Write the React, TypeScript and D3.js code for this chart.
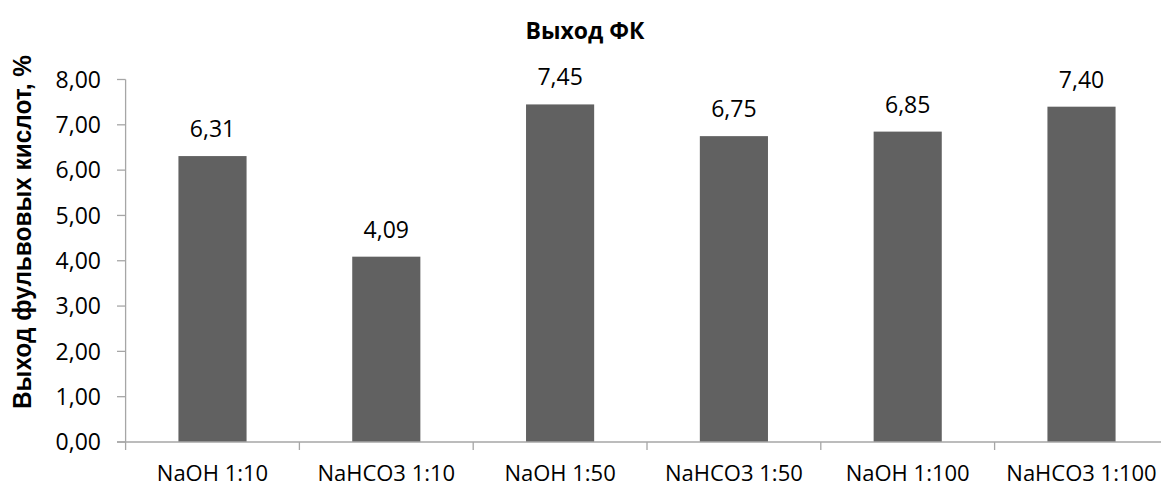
import React from "react";
import * as d3 from "d3";

const categories = ["NaOH 1:10", "NaHCO3 1:10", "NaOH 1:50", "NaHCO3 1:50", "NaOH 1:100", "NaHCO3 1:100"];
const values = [6.31, 4.09, 7.45, 6.75, 6.85, 7.4];
const yTicks = [0, 1, 2, 3, 4, 5, 6, 7, 8];
const title = "Выход ФК";
const yTitle = "Выход фульвовых кислот, %";

const W = 1161;
const H = 486;
const fmt = (v: number) => v.toFixed(2).replace(".", ",");

export default function App() {
  const x = d3.scaleBand<string>().domain(categories).range([125.6, 1168.4]).paddingInner(0).paddingOuter(0);
  const y = d3.scaleLinear().domain([0, 8]).range([442, 79.5]);
  const step = x.bandwidth();
  const barW = step * 0.392;
  const axisColor = "#a6a6a6";
  const textColor = "#000";
  const font = "'Open Sans', sans-serif";

  return (
    <svg width={W} height={H} style={{ position: "absolute", left: 0, top: 0, background: "#fff" }}>
      <text x={585} y={39} textAnchor="middle" fontFamily={font} fontWeight="bold" fontSize={23} fill={textColor}>
        {title}
      </text>
      <text
        transform={`translate(31, 232) rotate(-90)`}
        textAnchor="middle"
        fontFamily="'Liberation Sans', Arial, sans-serif"
        fontWeight="bold"
        fontSize={25}
        textLength={354}
        lengthAdjust="spacingAndGlyphs"
        fill={textColor}
      >
        {yTitle}
      </text>
      {yTicks.map((t) => (
        <g key={t}>
          <line x1={117} x2={125.6} y1={y(t)} y2={y(t)} stroke={axisColor} strokeWidth={1.3} />
          <text x={101} y={y(t)} dy="0.36em" textAnchor="end" fontFamily={font} fontSize={23} fill={textColor}>
            {fmt(t)}
          </text>
        </g>
      ))}
      {values.map((v, i) => {
        const c = categories[i];
        const bx = (x(c) as number) + (step - barW) / 2;
        return (
          <g key={c}>
            <rect x={bx} y={y(v)} width={barW} height={y(0) - y(v)} fill="#616161" />
            <text x={bx + barW / 2} y={y(v) - 19} textAnchor="middle" fontFamily={font} fontSize={23} fill={textColor}>
              {fmt(v)}
            </text>
            <text x={(x(c) as number) + step / 2} y={481} textAnchor="middle" fontFamily={font} fontSize={22} fill={textColor}>
              {c}
            </text>
          </g>
        );
      })}
      {categories.map((c) => (
        <line key={"t" + c} x1={x(c) as number} x2={x(c) as number} y1={442} y2={450} stroke={axisColor} strokeWidth={1.3} />
      ))}
      <line x1={1168.4} x2={1168.4} y1={442} y2={450} stroke={axisColor} strokeWidth={1.3} />
      <line x1={125.6} x2={125.6} y1={79.5} y2={442} stroke={axisColor} strokeWidth={1.3} />
      <line x1={117} x2={1168.4} y1={442} y2={442} stroke={axisColor} strokeWidth={1.3} />
    </svg>
  );
}
